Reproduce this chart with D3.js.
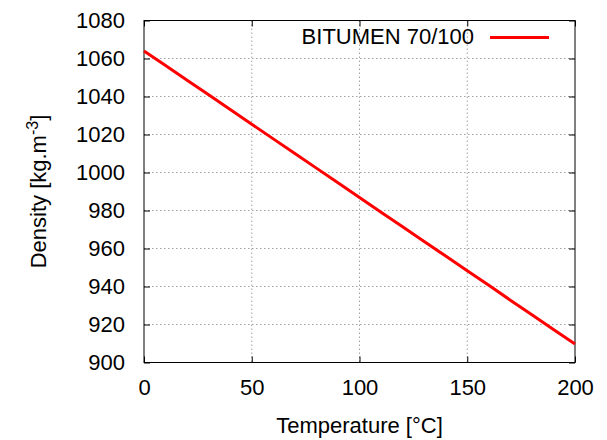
<!DOCTYPE html>
<html><head><meta charset="utf-8">
<script src="https://cdn.jsdelivr.net/npm/d3@7"></script>
<style>body{margin:0;background:#fff}svg{display:block}text{font-family:"Liberation Sans",Arial,sans-serif;fill:#000}</style>
</head><body><svg id="c" width="607" height="440"></svg>
<script>
const temperature = [0,10,20,30,40,50,60,70,80,90,100,110,120,130,140,150,160,170,180,190,200];
const density = [1064.0,1056.3,1048.6,1040.9,1033.1,1025.4,1017.7,1010.0,1002.3,994.6,986.8,979.1,971.4,963.7,956.0,948.3,940.6,932.8,925.1,917.4,909.7];
const xTicks = [0,50,100,150,200];
const yTicks = [900,920,940,960,980,1000,1020,1040,1060,1080];
const seriesName = "BITUMEN 70/100";

const svg = d3.select("#c");
const L=144, R=575, T=20.5, B=362.5;
const x = d3.scaleLinear().domain([0,200]).range([L,R]);
const y = d3.scaleLinear().domain([900,1080]).range([B,T]);
const fs = 22;

// grid
svg.append("g").selectAll("line").data(xTicks.slice(1,-1)).join("line")
  .attr("x1",d=>x(d)).attr("x2",d=>x(d)).attr("y1",T).attr("y2",B)
  .attr("stroke","#a0a0a0").attr("stroke-width",1).attr("stroke-dasharray","1.5,2.5");
svg.append("g").selectAll("line").data(yTicks.slice(1,-1)).join("line")
  .attr("x1",L).attr("x2",R).attr("y1",d=>y(d)).attr("y2",d=>y(d))
  .attr("stroke","#a0a0a0").attr("stroke-width",1).attr("stroke-dasharray","1.5,2.5");

// axes with inward ticks
const tk=6;
const ax = g=>g.selectAll(".domain").remove();
svg.append("g").attr("transform",`translate(0,${B})`)
  .call(d3.axisBottom(x).tickValues(xTicks).tickSize(-tk).tickPadding(17).tickFormat(d3.format("d")))
  .call(ax).call(g=>g.selectAll("text").style("font-size",fs+"px").attr("font-family",null));
svg.append("g").attr("transform",`translate(0,${T})`)
  .call(d3.axisTop(x).tickValues(xTicks).tickSize(-tk).tickFormat(""))
  .call(ax);
svg.append("g").attr("transform",`translate(${L},0)`)
  .call(d3.axisLeft(y).tickValues(yTicks).tickSize(-tk).tickPadding(19).tickFormat(d3.format("d")))
  .call(ax).call(g=>g.selectAll("text").style("font-size",fs+"px").attr("font-family",null));
svg.append("g").attr("transform",`translate(${R},0)`)
  .call(d3.axisRight(y).tickValues(yTicks).tickSize(-tk).tickFormat(""))
  .call(ax);
svg.selectAll(".tick line").attr("stroke","#000");

// frame
svg.append("rect").attr("x",L).attr("y",T).attr("width",R-L).attr("height",B-T)
  .attr("fill","none").attr("stroke","#000").attr("stroke-width",1);

// line
svg.append("path").datum(temperature.map((t,i)=>[t,density[i]]))
  .attr("fill","none").attr("stroke","#ff0000").attr("stroke-width",3)
  .attr("d",d3.line().x(d=>x(d[0])).y(d=>y(d[1])));

// legend
svg.append("text").attr("x",474).attr("y",44).attr("text-anchor","end").style("font-size",fs+"px").text(seriesName);
svg.append("line").attr("x1",490).attr("x2",549).attr("y1",37.5).attr("y2",37.5).attr("stroke","#ff0000").attr("stroke-width",3);

// axis labels
svg.append("text").attr("x",x(100)).attr("y",432.5).attr("text-anchor","middle").style("font-size",fs+"px").text("Temperature [°C]");
const yl = svg.append("text").attr("transform","translate(46,191.5) rotate(-90)").attr("text-anchor","middle").style("font-size",fs+"px");
yl.append("tspan").text("Density [kg.m");
yl.append("tspan").attr("dy",-8).style("font-size","16px").text("-3");
yl.append("tspan").attr("dy",8).text("]");
</script></body></html>
